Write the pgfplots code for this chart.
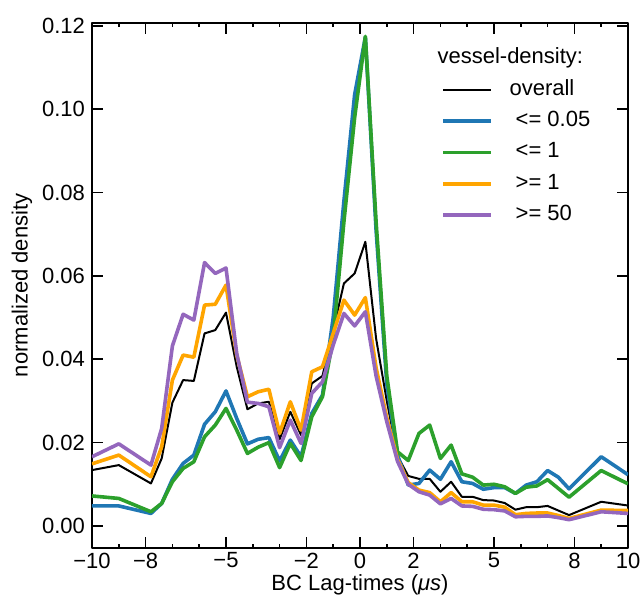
\documentclass[border=0pt]{standalone}
\usepackage{fontspec}
\setmainfont{Liberation Sans}
\usepackage{pgfplots}
\pgfplotsset{compat=1.18}
\usepackage{pgfplotstable}
\definecolor{cblue}{HTML}{1F77B4}
\definecolor{cgreen}{HTML}{2CA02C}
\definecolor{corange}{HTML}{FFA500}
\definecolor{cpurple}{HTML}{9467BD}
\pgfplotstableread{
x ov b g o p
-10 0.0134 0.0048 0.0072 0.0149 0.0166
-9 0.0146 0.0048 0.0066 0.0170 0.0197
-7.8 0.0102 0.0030 0.0034 0.0118 0.0146
-7.4 0.0162 0.0054 0.0054 0.0190 0.0234
-7.0 0.0296 0.0112 0.0106 0.0350 0.0432
-6.6 0.0350 0.0150 0.0138 0.0410 0.0508
-6.2 0.0348 0.0170 0.0154 0.0405 0.0494
-5.8 0.0462 0.0244 0.0214 0.0530 0.0632
-5.4 0.0470 0.0274 0.0242 0.0532 0.0606
-5.0 0.0512 0.0324 0.0282 0.0578 0.0619
-4.6 0.0382 0.0258 0.0230 0.0410 0.0414
-4.2 0.0280 0.0197 0.0174 0.0310 0.0297
-3.8 0.0294 0.0208 0.0189 0.0322 0.0294
-3.4 0.0298 0.0212 0.0200 0.0328 0.0286
-3.0 0.0208 0.0156 0.0140 0.0222 0.0188
-2.6 0.0274 0.0206 0.0198 0.0298 0.0254
-2.2 0.0218 0.0166 0.0157 0.0230 0.0198
-1.8 0.0342 0.0270 0.0262 0.0370 0.0318
-1.4 0.0360 0.0314 0.0310 0.0382 0.0346
-1.0 0.0470 0.0500 0.0450 0.0462 0.0434
-0.6 0.0582 0.0780 0.0730 0.0542 0.0510
-0.2 0.0606 0.1035 0.0980 0.0506 0.0480
0.2 0.0682 0.1173 0.1175 0.0548 0.0514
0.6 0.0450 0.0710 0.0730 0.0380 0.0360
1.0 0.0300 0.0340 0.0360 0.0260 0.0250
1.4 0.0168 0.0170 0.0178 0.0160 0.0155
1.8 0.0120 0.0098 0.0157 0.0104 0.0100
2.2 0.0113 0.0102 0.0222 0.0086 0.0082
2.6 0.0113 0.0134 0.0242 0.0080 0.0074
3.0 0.0082 0.0112 0.0162 0.0058 0.0053
3.4 0.0106 0.0154 0.0194 0.0080 0.0066
3.8 0.0070 0.0106 0.0125 0.0058 0.0048
4.2 0.0070 0.0102 0.0117 0.0058 0.0047
4.6 0.0062 0.0088 0.0098 0.0050 0.0040
5.0 0.0061 0.0092 0.0100 0.0050 0.0039
5.4 0.0055 0.0092 0.0094 0.0045 0.0036
5.8 0.0039 0.0078 0.0078 0.0027 0.0022
6.2 0.0045 0.0098 0.0093 0.0030 0.0023
6.6 0.0045 0.0106 0.0096 0.0031 0.0023
7.0 0.0048 0.0133 0.0111 0.0031 0.0024
7.4 0.0037 0.0117 0.0090 0.0025 0.0020
7.8 0.0026 0.0089 0.0069 0.0018 0.0015
9 0.0058 0.0166 0.0133 0.0038 0.0034
10 0.0049 0.0123 0.0101 0.0037 0.0030
}\data
\begin{document}
\begin{tikzpicture}
\begin{axis}[name=ax, scale only axis, width=268pt, height=262.3pt,
  xmin=-10, xmax=10, ymin=-0.0052, ymax=0.1207,
  xtick={-10,-8,-5,-2,0,2,5,8,10},
  xticklabels={−10,−8,−5,−2,0,2,5,8,10},
  minor xtick={-9,-7,-6,-4,-3,-1,1,3,4,6,7,9},
  ytick={0,0.02,0.04,0.06,0.08,0.1,0.12},
  scaled y ticks=false,
  yticklabel style={/pgf/number format/.cd, fixed, fixed zerofill, precision=2, assume math mode=true},
  xticklabel style={inner sep=2.4pt},
  tick align=inside,
  major tick length=5.3pt, minor tick length=1.8pt,
  every tick/.style={black, line width=0.8pt},
  axis line style={line width=0.9pt},
  tick label style={font=\fontsize{11}{13}\selectfont},
  label style={font=\fontsize{11}{13}\selectfont},
  xlabel={BC Lag-times ({\itshape μs})},
  ylabel={normalized density},
  xlabel style={at={(axis description cs:0.5,-0.0815)}, anchor=base},
  ylabel style={at={(axis description cs:-0.1306,0.5)}, anchor=center},
  legend cell align=left,
  legend image code/.code={\draw[#1, line cap=butt] (0pt,0pt) -- (24pt,0pt);},
  legend style={draw=none, fill=none, inner sep=0pt,
    at={(axis description cs:0.651,0.8933)}, anchor=north west,
    font=\fontsize{11}{13}\selectfont, row sep=5.15pt,
    nodes={inner sep=0pt, text height=8pt, text depth=2.5pt},
    /tikz/every odd column/.append style={column sep=8.3pt}},
  line join=round,
]
\addplot[black, line width=1pt] table[x=x, y=ov] {\data};
\addlegendentry{overall}
\addplot[cblue, line width=1.8pt] table[x=x, y=b] {\data};
\addlegendentry{\ <= 0.05}
\addplot[cgreen, line width=1.8pt] table[x=x, y=g] {\data};
\addlegendentry{\ <= 1}
\addplot[corange, line width=1.8pt] table[x=x, y=o] {\data};
\addlegendentry{\ >= 1}
\addplot[cpurple, line width=1.8pt] table[x=x, y=p] {\data};
\addlegendentry{\ >= 50}
\node[anchor=base west, inner sep=0pt, font=\fontsize{11}{13}\selectfont] at (axis description cs:0.644,0.9232) {vessel-density:};
\end{axis}
\pgfresetboundingbox
\path ([xshift=-46pt,yshift=-28.7pt]ax.south west) rectangle ([xshift=6.5pt,yshift=11.5pt]ax.north east);
\end{tikzpicture}
\end{document}
